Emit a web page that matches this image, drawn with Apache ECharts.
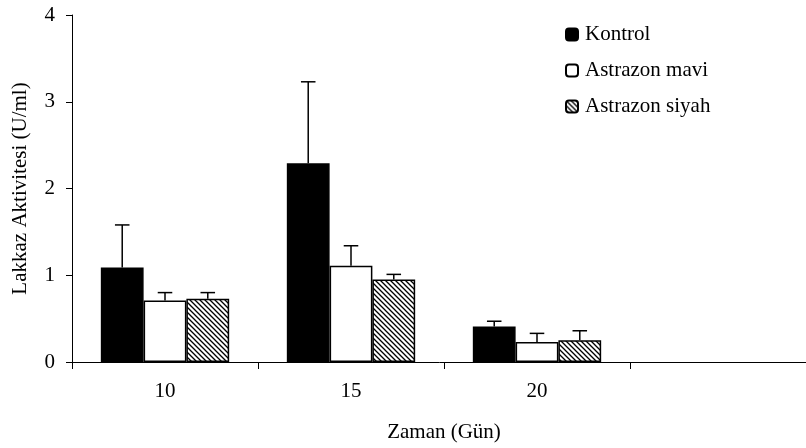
<!DOCTYPE html>
<html>
<head>
<meta charset="utf-8">
<script src="https://cdn.jsdelivr.net/npm/echarts@6/dist/echarts.min.js"></script>
<style>
html,body{margin:0;padding:0;background:#fff;}
#chart{width:806px;height:448px;}
</style>
</head>
<body>
<div id="chart"></div>
<script>
// Data
const categories = ['10', '15', '20', ''];
const seriesNames = ['Kontrol', 'Astrazon mavi', 'Astrazon siyah'];
const kontrol = [1.09, 2.29, 0.41];
const kontrolErr = [0.49, 0.94, 0.06];
const mavi = [0.71, 1.11, 0.23];
const maviErr = [0.09, 0.23, 0.10];
const siyah = [0.73, 0.95, 0.25];
const siyahErr = [0.07, 0.06, 0.11];
const yTicks = [0, 1, 2, 3, 4];

const FONT = "'Liberation Serif', 'Times New Roman', serif";

// hatch pattern
function makeHatch() {
  const s = 5;
  const c = document.createElement('canvas');
  c.width = s; c.height = s;
  const ctx = c.getContext('2d');
  ctx.fillStyle = '#fff';
  ctx.fillRect(0, 0, s, s);
  ctx.strokeStyle = '#000';
  ctx.lineWidth = 1.3;
  ctx.beginPath();
  ctx.moveTo(-1, -1); ctx.lineTo(s + 1, s + 1);
  ctx.moveTo(-1, s - 1); ctx.lineTo(1, s + 1);
  ctx.moveTo(s - 1, -1); ctx.lineTo(s + 1, 1);
  ctx.stroke();
  return c;
}
const hatch = makeHatch();

const values = [kontrol, mavi, siyah];
const errs = [kontrolErr, maviErr, siyahErr];
const fills = ['#000', '#fff', { image: hatch, repeat: 'repeat' }];
const CAT_GAP = 0.31;

const chart = echarts.init(document.getElementById('chart'), null, { renderer: 'canvas' });

const series = [];
values.forEach((vals, k) => {
  series.push({
    name: seriesNames[k],
    type: 'bar',
    data: vals,
    barGap: '0%',
    barCategoryGap: (CAT_GAP * 100) + '%',
    itemStyle: { color: fills[k], borderColor: '#000', borderWidth: 1.5 },
    emphasis: { disabled: true },
    z: 2
  });
});
values.forEach((vals, k) => {
  series.push({
    name: seriesNames[k] + ' err',
    type: 'custom',
    z: 3,
    silent: true,
    data: vals.map((v, i) => [i, v, errs[k][i]]),
    encode: { x: 0, y: 1 },
    renderItem: function (params, api) {
      const x = api.value(0), v = api.value(1), e = api.value(2);
      const base = api.coord([x, v]);
      const top = api.coord([x, v + e]);
      const band = api.size([1, 0])[0];
      const barW = band * (1 - CAT_GAP) / 3;
      const cx = base[0] + (k - 1) * barW;
      const half = barW * 0.17;
      const st = { stroke: '#000', lineWidth: 1.5 };
      return {
        type: 'group',
        children: [
          { type: 'line', shape: { x1: cx, y1: base[1], x2: cx, y2: top[1] }, style: st },
          { type: 'line', shape: { x1: cx - half, y1: top[1], x2: cx + half, y2: top[1] }, style: st }
        ]
      };
    }
  });
});

chart.setOption({
  animation: false,
  backgroundColor: '#fff',
  textStyle: { fontFamily: FONT, color: '#000' },
  grid: { left: 72, top: 15, width: 744, height: 347, containLabel: false, outerBoundsMode: 'none' },
  legend: {
    data: seriesNames,
    orient: 'vertical',
    left: 560,
    top: 19,
    itemWidth: 12,
    itemHeight: 12,
    itemGap: 15,
    textStyle: { fontFamily: FONT, fontSize: 21, color: '#000', padding: [0, 0, 0, 2] },
    selectedMode: false
  },
  xAxis: {
    type: 'category',
    data: categories,
    name: 'Zaman (Gün)',
    nameLocation: 'middle',
    nameGap: 60,
    nameTextStyle: { fontFamily: FONT, fontSize: 21, color: '#000' },
    axisLine: { lineStyle: { color: '#000', width: 1 } },
    axisTick: { show: true, length: 7, lineStyle: { color: '#000' } },
    axisLabel: { fontFamily: FONT, fontSize: 21, color: '#000', margin: 19 },
    splitLine: { show: false }
  },
  yAxis: {
    type: 'value',
    min: 0,
    max: 4,
    interval: 1,
    name: 'Lakkaz Aktivitesi (U/ml)',
    nameLocation: 'middle',
    nameGap: 41,
    nameTextStyle: { fontFamily: FONT, fontSize: 21, color: '#000' },
    axisLine: { show: true, lineStyle: { color: '#000', width: 1 } },
    axisTick: { show: true, length: 6, lineStyle: { color: '#000' } },
    axisLabel: {
      fontFamily: FONT, fontSize: 21, color: '#000', margin: 17,
      formatter: function (v) { return yTicks.indexOf(v) >= 0 ? String(v) : ''; }
    },
    splitLine: { show: false }
  },
  series: series
});
</script>
</body>
</html>
